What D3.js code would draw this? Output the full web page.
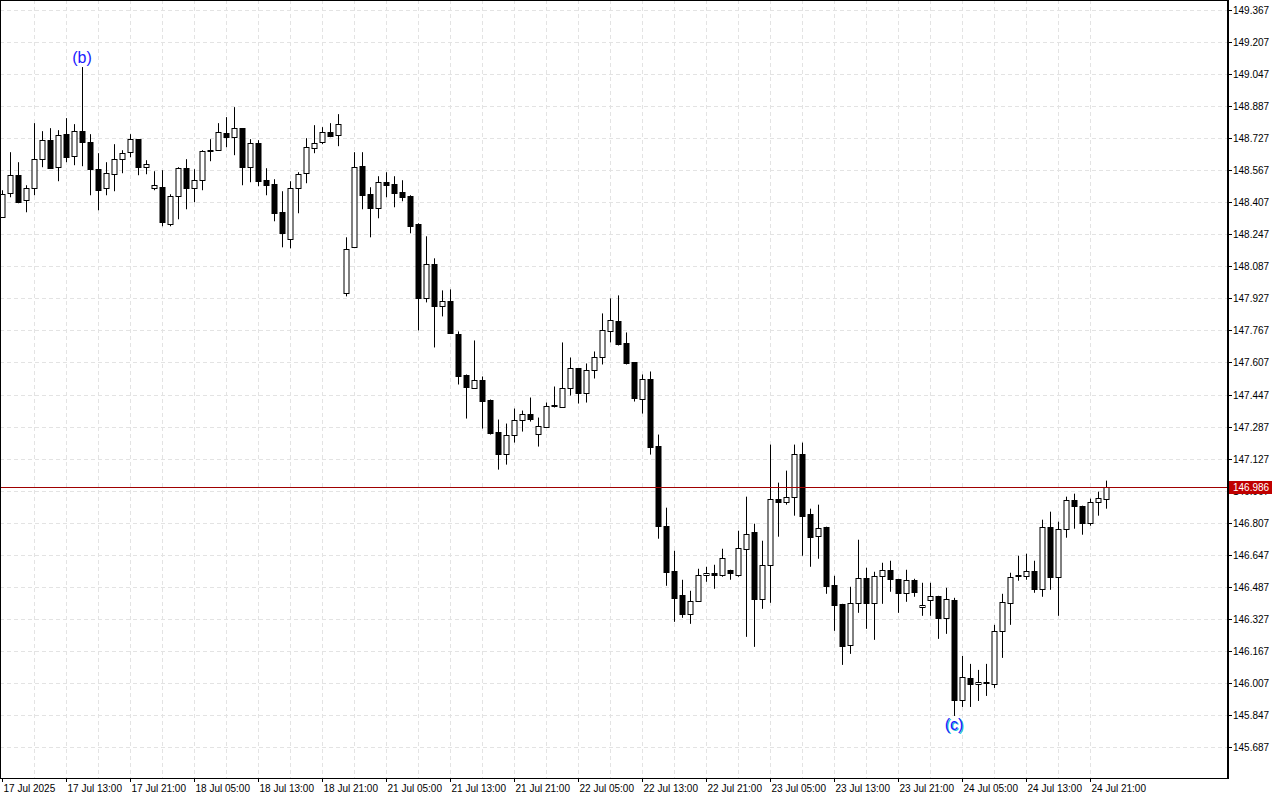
<!DOCTYPE html>
<html>
<head>
<meta charset="utf-8">
<script src="https://cdn.jsdelivr.net/npm/d3@7"></script>
<style>
  body { margin: 0; background: #fff; }
  svg { display: block; font-family: "Liberation Sans", Arial, sans-serif; }
</style>
</head>
<body>
<div id="vis"></div>
<script>
// hourly candles, USDJPY-like, 17 Jul 05:00 .. 24 Jul
var opens = [148.332,148.452,148.542,148.417,148.477,148.622,148.717,148.582,148.747,148.637,
  148.762,148.707,148.572,148.477,148.547,148.622,148.657,148.722,148.582,148.477,
  148.482,148.297,148.437,148.577,148.477,148.517,148.667,148.667,148.752,148.732,
  148.777,148.582,148.702,148.517,148.497,148.357,148.222,148.477,148.552,148.677,
  148.707,148.757,148.742,147.952,148.182,148.587,148.447,148.377,148.507,148.497,
  148.457,148.437,148.297,147.927,148.097,147.887,147.912,147.747,147.542,147.482,
  147.522,147.422,147.262,147.152,147.247,147.322,147.352,147.252,147.287,147.392,
  147.387,147.477,147.577,147.452,147.567,147.632,147.762,147.812,147.702,147.607,
  147.427,147.527,147.192,146.792,146.567,146.447,146.352,146.417,146.547,146.557,
  146.547,146.572,146.547,146.677,146.762,146.427,146.597,146.927,146.912,146.937,
  147.152,146.852,146.742,146.787,146.497,146.402,146.197,146.407,146.532,146.407,
  146.542,146.572,146.527,146.457,146.522,146.387,146.422,146.442,146.332,146.422,
  145.922,146.032,146.002,146.012,146.002,146.267,146.407,146.547,146.542,146.567,
  146.477,146.787,146.537,146.777,146.922,146.892,146.807,146.912,146.927];
var highs = [148.467,148.657,148.607,148.492,148.802,148.762,148.777,148.767,148.827,148.797,
  149.082,148.747,148.652,148.607,148.697,148.667,148.747,148.722,148.617,148.562,
  148.567,148.447,148.582,148.622,148.572,148.667,148.722,148.802,148.832,148.882,
  148.777,148.722,148.717,148.577,148.522,148.462,148.512,148.557,148.727,148.792,
  148.782,148.802,148.847,148.232,148.657,148.657,148.482,148.537,148.557,148.537,
  148.517,148.442,148.302,148.237,148.127,147.967,147.972,147.762,147.547,147.717,
  147.537,147.422,147.322,147.302,147.377,147.367,147.432,147.332,147.407,147.487,
  147.707,147.632,147.577,147.602,147.662,147.852,147.927,147.942,147.757,147.607,
  147.547,147.562,147.247,146.882,146.667,146.522,146.467,146.577,146.587,146.597,
  146.677,146.572,146.767,146.937,146.802,146.717,147.197,147.007,147.067,147.197,
  147.207,146.877,146.897,146.787,146.542,146.402,146.487,146.722,146.582,146.562,
  146.607,146.617,146.527,146.572,146.527,146.507,146.507,146.442,146.482,146.432,
  146.142,146.102,146.072,146.102,146.297,146.452,146.557,146.642,146.652,146.617,
  146.822,146.862,146.812,146.937,146.952,146.892,146.927,146.962,147.017];
var lows = [148.332,148.432,148.402,148.357,148.442,148.582,148.577,148.512,148.607,148.592,
  148.587,148.442,148.367,148.442,148.462,148.552,148.632,148.542,148.547,148.467,
  148.287,148.287,148.322,148.372,148.407,148.467,148.612,148.667,148.682,148.642,
  148.492,148.507,148.487,148.442,148.312,148.182,148.177,148.352,148.502,148.652,
  148.697,148.732,148.687,147.937,148.182,148.372,148.232,148.327,148.432,148.382,
  148.412,148.252,147.767,147.907,147.682,147.837,147.752,147.497,147.327,147.482,
  147.277,147.247,147.072,147.097,147.207,147.262,147.312,147.187,147.287,147.382,
  147.382,147.442,147.402,147.407,147.527,147.597,147.707,147.692,147.597,147.412,
  147.352,147.147,146.727,146.492,146.312,146.332,146.302,146.417,146.512,146.477,
  146.537,146.522,146.537,146.237,146.187,146.377,146.407,146.737,146.897,146.842,
  146.642,146.587,146.627,146.452,146.267,146.097,146.152,146.357,146.277,146.222,
  146.402,146.462,146.357,146.412,146.437,146.342,146.342,146.227,146.252,145.842,
  145.887,145.887,145.917,145.942,145.982,146.132,146.297,146.517,146.522,146.457,
  146.437,146.472,146.342,146.732,146.777,146.747,146.792,146.842,146.877];
var closes = [148.447,148.542,148.407,148.477,148.622,148.717,148.577,148.742,148.632,148.762,
  148.707,148.572,148.467,148.552,148.622,148.652,148.722,148.582,148.597,148.492,
  148.307,148.437,148.577,148.477,148.517,148.662,148.662,148.757,148.732,148.777,
  148.582,148.702,148.512,148.492,148.352,148.252,148.477,148.547,148.682,148.702,
  148.757,148.737,148.797,148.172,148.582,148.442,148.377,148.507,148.492,148.452,
  148.432,148.287,147.927,148.097,147.887,147.912,147.752,147.537,147.482,147.522,
  147.417,147.257,147.152,147.247,147.322,147.352,147.327,147.292,147.392,147.397,
  147.482,147.577,147.452,147.567,147.632,147.767,147.817,147.697,147.602,147.427,
  147.527,147.187,146.792,146.562,146.432,146.352,146.417,146.547,146.557,146.547,
  146.632,146.557,146.682,146.752,146.427,146.597,146.927,146.912,146.937,147.152,
  146.842,146.737,146.782,146.492,146.397,146.192,146.407,146.532,146.407,146.542,
  146.572,146.527,146.457,146.522,146.462,146.397,146.442,146.332,146.427,145.922,
  146.037,146.002,146.012,146.007,146.267,146.412,146.537,146.542,146.567,146.477,
  146.787,146.537,146.777,146.922,146.892,146.807,146.912,146.932,146.986];

var timeLabels = ["17 Jul 2025","17 Jul 13:00","17 Jul 21:00","18 Jul 05:00","18 Jul 13:00",
  "18 Jul 21:00","21 Jul 05:00","21 Jul 13:00","21 Jul 21:00","22 Jul 05:00","22 Jul 13:00",
  "22 Jul 21:00","23 Jul 05:00","23 Jul 13:00","23 Jul 21:00","24 Jul 05:00","24 Jul 13:00",
  "24 Jul 21:00"];
var priceTicks = [149.367,149.207,149.047,148.887,148.727,148.567,148.407,148.247,148.087,
  147.927,147.767,147.607,147.447,147.287,147.127,146.967,146.807,146.647,146.487,146.327,
  146.167,146.007,145.847,145.687];
var lastPrice = 146.986;
var waveLabels = [{i: 10, text: "(b)", at: "high"}, {i: 119, text: "(c)", at: "low"}];

var W = 1280, H = 800, plotR = 1227, plotB = 778;

var n = opens.length;
var data = d3.range(n).map(i => ({i: i, o: opens[i], h: highs[i], l: lows[i], c: closes[i]}));

var x = d3.scaleBand().domain(d3.range(n)).range([-2, -2 + 8 * n]);
var cx = i => x(i) + x.bandwidth() / 2;
var y = d3.scaleLinear().domain([145.687, 149.367]).range([747, 10]);

var svg = d3.select("#vis").append("svg").attr("width", W).attr("height", H);

// grid
var grid = svg.append("g").attr("stroke", "#e3e3e3").attr("stroke-dasharray", "4,3");
grid.selectAll("line.h").data(priceTicks).join("line")
  .attr("x1", 0).attr("x2", plotR).attr("y1", d => Math.round(y(d)) + 0.5).attr("y2", d => Math.round(y(d)) + 0.5);
grid.selectAll("line.v").data(d3.range(4, n + 14, 4)).join("line")
  .attr("x1", d => cx(d) + 0.5).attr("x2", d => cx(d) + 0.5).attr("y1", 0).attr("y2", plotB);

// candles
var cg = svg.append("g").selectAll("g").data(data).join("g");
cg.append("line")
  .attr("x1", d => cx(d.i) + 0.5).attr("x2", d => cx(d.i) + 0.5)
  .attr("y1", d => y(d.h)).attr("y2", d => y(d.l))
  .attr("stroke", "#000");
cg.append("rect")
  .attr("x", d => cx(d.i) - 2)
  .attr("y", d => Math.round(y(Math.max(d.o, d.c))) + 0.5)
  .attr("width", 5)
  .attr("height", d => Math.max(1, Math.round(Math.abs(y(d.o) - y(d.c)))))
  .attr("fill", d => d.c >= d.o ? "#fff" : "#000")
  .attr("stroke", "#000");

// last price line
svg.append("line")
  .attr("x1", 0).attr("x2", plotR).attr("y1", Math.round(y(lastPrice)) + 0.5).attr("y2", Math.round(y(lastPrice)) + 0.5)
  .attr("stroke", "#a00000");

// wave labels
waveLabels.forEach(function (w) {
  var d = data[w.i];
  if (w.at === "high") {
    svg.append("text").attr("x", cx(w.i)).attr("y", y(d.h) - 4).attr("text-anchor", "middle")
      .attr("font-size", 16).attr("fill", "#1a1aff").text(w.text);
  } else {
    svg.append("text").attr("x", cx(w.i) + 1).attr("y", y(d.l) + 15).attr("text-anchor", "middle")
      .attr("font-size", 16).attr("fill", "#19c3d6").text(w.text);
    svg.append("text").attr("x", cx(w.i)).attr("y", y(d.l) + 14).attr("text-anchor", "middle")
      .attr("font-size", 16).attr("fill", "#1a1aff").text(w.text);
  }
});

// right axis
svg.append("rect").attr("x", plotR).attr("y", 0).attr("width", 2).attr("height", plotB + 1).attr("fill", "#000");
svg.append("line").attr("x1", 0).attr("x2", plotR).attr("y1", plotB + 0.5).attr("y2", plotB + 0.5).attr("stroke", "#000");
svg.append("line").attr("x1", 0.5).attr("x2", 0.5).attr("y1", 0).attr("y2", plotB).attr("stroke", "#000");
svg.append("line").attr("x1", 0).attr("x2", plotR).attr("y1", 0.5).attr("y2", 0.5).attr("stroke", "#000");

var ya = svg.append("g").attr("font-size", 10);
priceTicks.forEach(function (p) {
  var yy = Math.round(y(p)) + 0.5;
  ya.append("line").attr("x1", plotR + 2).attr("x2", plotR + 5).attr("y1", yy).attr("y2", yy).attr("stroke", "#000");
  ya.append("text").attr("x", plotR + 6).attr("y", yy + 3.5).text(p.toFixed(3));
});
var ly = Math.round(y(lastPrice));
svg.append("rect").attr("x", plotR + 2).attr("y", ly - 6).attr("width", 43).attr("height", 13).attr("fill", "#c00000");
svg.append("text").attr("x", plotR + 6).attr("y", ly + 4).attr("font-size", 10).attr("fill", "#fff").text(lastPrice.toFixed(3));

// bottom axis
var xa = svg.append("g").attr("font-size", 10);
timeLabels.forEach(function (t, k) {
  var xx = Math.round(cx(k * 8)) + 0.5;
  xa.append("line").attr("x1", xx).attr("x2", xx).attr("y1", plotB).attr("y2", plotB + 4).attr("stroke", "#000");
  xa.append("text").attr("x", xx + 1).attr("y", plotB + 14).text(t);
});
</script>
</body>
</html>
